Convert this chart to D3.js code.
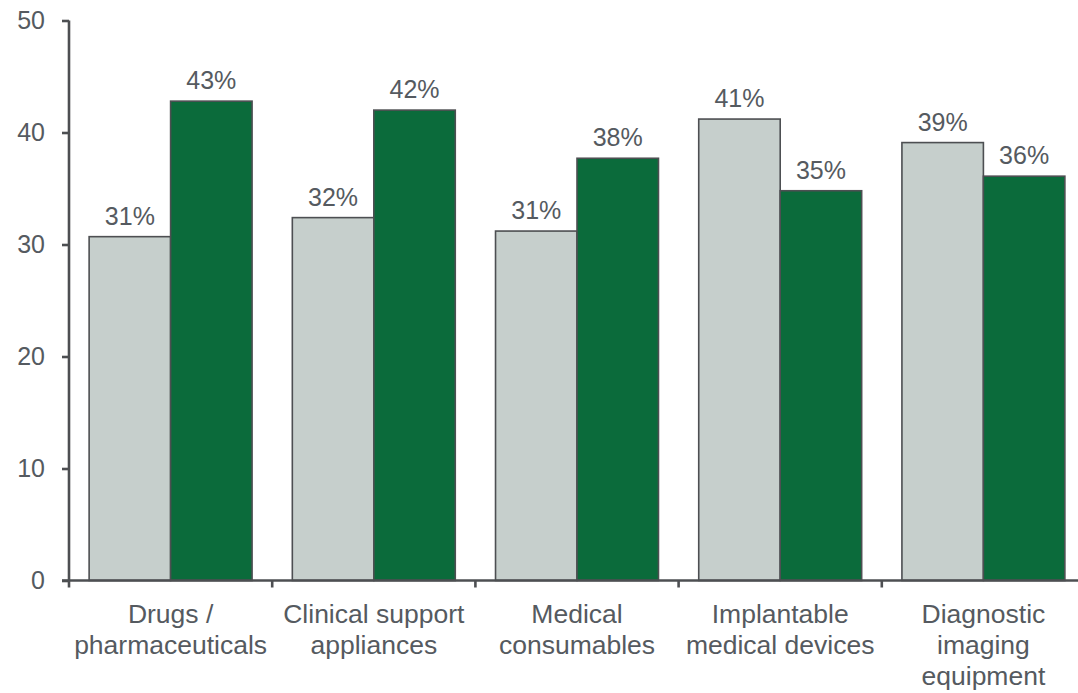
<!DOCTYPE html>
<html>
<head>
<meta charset="utf-8">
<script src="https://cdn.jsdelivr.net/npm/d3@7"></script>
<style>
  html, body { margin: 0; padding: 0; background: #fff; }
  svg { display: block; }
  text { font-family: "Liberation Sans", Arial, sans-serif; fill: #555a60; }
</style>
</head>
<body>
<svg id="chart" width="1078" height="693"></svg>
<script>
// Categories (multi-line labels) and two series of percentages
const categories = [
  ["Drugs /", "pharmaceuticals"],
  ["Clinical support", "appliances"],
  ["Medical", "consumables"],
  ["Implantable", "medical devices"],
  ["Diagnostic", "imaging", "equipment"]
];
const seriesNames = ["grey", "green"];
const greyValues  = [30.7, 32.4, 31.2, 41.2, 39.1];
const greenValues = [42.8, 42.0, 37.7, 34.8, 36.1];
const yTicks = [0, 10, 20, 30, 40, 50];

const colors = { grey: "#c6cfcc", green: "#0b6b3b" };
const axisColor = "#4d4f52";

const svg = d3.select("#chart");
const x0 = 69, yBottom = 580.5, yTop = 20.5, step = 203.2;

const keys = categories.map((c, i) => i);
const x = d3.scaleBand().domain(keys).range([x0, x0 + step * keys.length]).padding(0);
const xs = d3.scaleBand().domain(seriesNames).range([0, x.bandwidth()])
  .paddingInner(0).paddingOuter(0.247);
const y = d3.scaleLinear().domain([0, 50]).range([yBottom, yTop]);

const rows = keys.map(i => ({ i, grey: greyValues[i], green: greenValues[i] }));

// Bars
const groups = svg.append("g").selectAll("g").data(rows).join("g")
  .attr("transform", d => `translate(${x(d.i)},0)`);

groups.selectAll("rect")
  .data(d => seriesNames.map(k => ({ k, v: d[k] })))
  .join("rect")
  .attr("x", d => xs(d.k))
  .attr("y", d => y(d.v))
  .attr("width", xs.bandwidth())
  .attr("height", d => y(0) - y(d.v))
  .attr("fill", d => colors[d.k])
  .attr("stroke", axisColor)
  .attr("stroke-width", 1.6);

// Value labels
groups.selectAll("text.val")
  .data(d => seriesNames.map(k => ({ k, v: d[k] })))
  .join("text")
  .attr("class", "val")
  .attr("x", d => xs(d.k) + xs.bandwidth() / 2)
  .attr("y", d => y(d.v) - 12)
  .attr("text-anchor", "middle")
  .style("font-size", "25px")
  .text(d => Math.round(d.v) + "%");

// Y axis
const yAxis = svg.append("g").attr("transform", `translate(${x0},0)`)
  .call(d3.axisLeft(y).tickValues(yTicks).tickSize(7).tickPadding(17));
yAxis.select(".domain").attr("stroke", axisColor).attr("stroke-width", 2.6)
  .attr("d", `M0,${yTop}V${yBottom}`);
yAxis.selectAll(".tick line").attr("stroke", axisColor).attr("stroke-width", 2.6);
yAxis.selectAll(".tick text").style("font-size", "25px")
  .attr("fill", "#555a60").attr("font-family", "Liberation Sans, Arial, sans-serif");

// X axis with ticks at category boundaries
const xAxis = svg.append("g").attr("transform", `translate(0,${yBottom})`);
xAxis.append("line")
  .attr("x1", x0 - 7).attr("x2", 1078)
  .attr("stroke", axisColor).attr("stroke-width", 2.6);
xAxis.selectAll("line.tk").data(keys).join("line")
  .attr("class", "tk")
  .attr("x1", d => x(d)).attr("x2", d => x(d))
  .attr("y1", 0).attr("y2", 7)
  .attr("stroke", axisColor).attr("stroke-width", 2.6);

// Category labels
const labels = svg.append("g").selectAll("text").data(keys).join("text")
  .attr("text-anchor", "middle")
  .style("font-size", "26.5px")
  .attr("transform", d => `translate(${x(d) + x.bandwidth() / 2},623)`);
labels.selectAll("tspan").data(d => categories[d]).join("tspan")
  .attr("x", 0)
  .attr("y", (d, j) => j * 31)
  .text(d => d);
</script>
</body>
</html>
